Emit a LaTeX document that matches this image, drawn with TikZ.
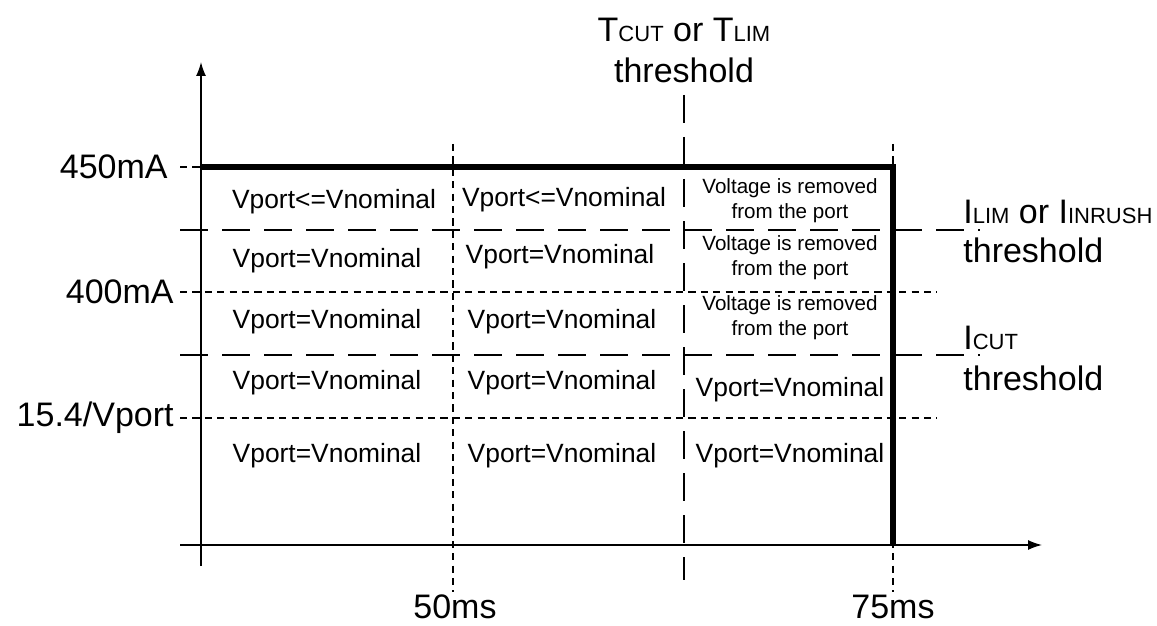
\documentclass[tikz,border=0pt]{standalone}
\usepackage{fontspec}
\setmainfont{Liberation Sans}
\usetikzlibrary{arrows.meta}
\tikzset{
  axis/.style={line width=0.75pt,-{Latex[length=7pt,width=5pt]}},
  sdash/.style={line width=1.2pt,dash pattern=on 3.6pt off 2.6pt},
  ldash/.style={line width=1.2pt,dash pattern=on 14pt off 7pt},
  heavy/.style={line width=2.6pt},
  big/.style={font=\fontsize{17}{19}\selectfont,inner sep=0pt},
  cell/.style={font=\fontsize{13.2}{15}\selectfont,inner sep=0pt},
  small/.style={font=\fontsize{10.3}{12.4}\selectfont,inner sep=0pt,align=center},
}
\newcommand{\sml}[1]{{\fontsize{11}{13}\selectfont #1}}
\begin{document}
\begin{tikzpicture}[x=0.5pt,y=-0.5pt]
\useasboundingbox (0,0) rectangle (1157,626);
% coordinates
\coordinate (ytop) at (201,62);
\coordinate (ybot) at (201,566);
\coordinate (xl) at (180,545);
\coordinate (xr) at (1042,545);
% axes
\draw[axis] (ybot) -- (ytop);
\draw[axis] (xl) -- (xr);
% horizontal grid lines
\coordinate (h450l) at (180,167);
\coordinate (h450a) at (201,167);
\coordinate (h450b) at (893,167);
\coordinate (h450c) at (893,545);
\draw[sdash] (h450l) -- (h450a);
\coordinate (hlim1) at (180,230); \coordinate (hlim2) at (980,230);
\coordinate (h400a) at (180,292); \coordinate (h400b) at (937,292);
\coordinate (hcut1) at (180,355); \coordinate (hcut2) at (980,355);
\coordinate (h154a) at (180,418); \coordinate (h154b) at (937,418);
\draw[ldash] (hlim1) -- (hlim2);
\draw[sdash] (h400a) -- (h400b);
\draw[ldash] (hcut1) -- (hcut2);
\draw[sdash] (h154a) -- (h154b);
% vertical lines
\coordinate (v50a) at (453,144); \coordinate (v50b) at (453,592);
\coordinate (vtca) at (684,95); \coordinate (vtcb) at (684,580);
\coordinate (v75a) at (893,144); \coordinate (v75b) at (893,592);
\draw[sdash] (v50a) -- (v50b);
\draw[ldash] (vtca) -- (vtcb);
\draw[sdash] (v75a) -- (v75b);
% thick limit line
\draw[heavy] (h450a) -- (h450b) -- (h450c);
% axis labels
\node[big,anchor=east] (l450) at (168,167) {450mA};
\node[big,anchor=east] (l400) at (174,292) {400mA};
\node[big,anchor=east] (l154) at (174,418) {15.4/Vport};
\node[big] (l50) at (455,607) {50ms};
\node[big] (l75) at (893,607) {75ms};
\node[big] (tcut) at (684,30) {T\sml{CUT} or T\sml{LIM}};
\node[big] (tth) at (684,70) {threshold};
\node[big,anchor=west] (ilim) at (963,212) {I\sml{LIM} or I\sml{INRUSH}};
\node[big,anchor=west] (ilimth) at (963,250) {threshold};
\node[big,anchor=west] (icut) at (963,338) {I\sml{CUT}};
\node[big,anchor=west] (icutth) at (963,378) {threshold};
% cells column 1
\node[cell] (c11) at (334,202) {Vport<=Vnominal};
\node[cell] (c12) at (327,261) {Vport=Vnominal};
\node[cell] (c13) at (327,322) {Vport=Vnominal};
\node[cell] (c14) at (327,383) {Vport=Vnominal};
\node[cell] (c15) at (327,456) {Vport=Vnominal};
% column 2
\node[cell] (c21) at (564,200) {Vport<=Vnominal};
\node[cell] (c22) at (560,257) {Vport=Vnominal};
\node[cell] (c23) at (562,322) {Vport=Vnominal};
\node[cell] (c24) at (562,383) {Vport=Vnominal};
\node[cell] (c25) at (562,456) {Vport=Vnominal};
% column 3
\node[small] (c31) at (790,201) {Voltage is removed\\from the port};
\node[small] (c32) at (790,258) {Voltage is removed\\from the port};
\node[small] (c33) at (790,318) {Voltage is removed\\from the port};
\node[cell] (c34) at (790,390) {Vport=Vnominal};
\node[cell] (c35) at (790,456) {Vport=Vnominal};
\end{tikzpicture}
\end{document}
